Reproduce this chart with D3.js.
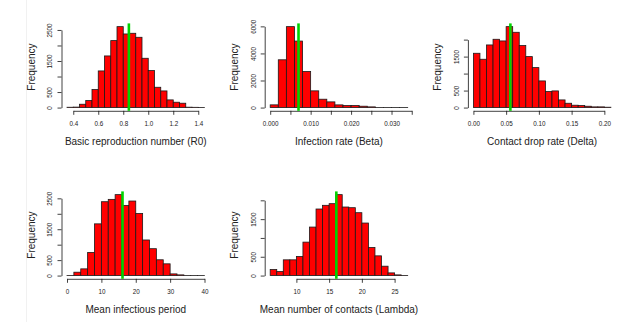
<!DOCTYPE html>
<html>
<head>
<meta charset="utf-8">
<script src="https://cdn.jsdelivr.net/npm/d3@7"></script>
<style>
  body { margin: 0; background: #fff; }
  svg { display: block; font-family: "Liberation Sans", Arial, sans-serif; }
  .axis path, .axis line { stroke: #111; stroke-width: 0.8; }
  .axis text { fill: #222; font-size: 6.3px; }
  .title { fill: #222; font-size: 10px; }
</style>
</head>
<body>
<svg></svg>
<script>
// histogram counts, one bin per entry
var r0Start = 0.35, r0Bin = 0.05;
var r0Counts = [10, 15, 107, 225, 580, 1180, 1663, 2157, 2607, 2371, 2393, 2264, 1588, 1191, 654, 536, 247, 172, 140, 12, 8, 2];
var r0Mark = 0.845;
var r0XTicks = [0.4, 0.6, 0.8, 1.0, 1.2, 1.4];
var r0XLabels = ["0.4", "0.6", "0.8", "1.0", "1.2", "1.4"];
var r0YTicks = [0, 500, 1000, 1500, 2000, 2500];
var r0YLabels = ["0", "500", "", "1500", "", "2500"];

var betaStart = 0, betaBin = 0.002;
var betaCounts = [200, 3530, 5980, 4914, 2667, 1235, 617, 420, 198, 150, 150, 100, 50, 5, 3, 2, 1];
var betaMark = 0.0070;
var betaXTicks = [0, 0.005, 0.01, 0.015, 0.02, 0.025, 0.03, 0.035];
var betaXLabels = ["0.000", "", "0.010", "", "0.020", "", "0.030", ""];
var betaYTicks = [0, 2000, 4000, 6000];
var betaYLabels = ["0", "2000", "4000", "6000"];

var deltaStart = 0, deltaBin = 0.01;
var deltaCounts = [1598, 1422, 1843, 2010, 1961, 2382, 2216, 1824, 1500, 1176, 784, 471, 490, 225, 127, 69, 59, 39, 20, 20, 10];
var deltaMark = 0.0565;
var deltaXTicks = [0, 0.05, 0.1, 0.15, 0.2];
var deltaXLabels = ["0.00", "0.05", "0.10", "0.15", "0.20"];
var deltaYTicks = [0, 500, 1000, 1500, 2000];
var deltaYLabels = ["0", "500", "", "1500", ""];

var periodStart = 0, periodBin = 2;
var periodCounts = [5, 109, 217, 750, 1674, 2391, 2467, 2620, 2272, 2413, 2011, 1152, 870, 511, 380, 54, 22, 3, 1, 1];
var periodMark = 16.15;
var periodXTicks = [0, 10, 20, 30, 40];
var periodXLabels = ["0", "10", "20", "30", "40"];
var periodYTicks = [0, 500, 1000, 1500, 2000, 2500];
var periodYLabels = ["0", "500", "", "1500", "", "2500"];

var lambdaStart = 6, lambdaBin = 1;
var lambdaCounts = [160, 107, 418, 418, 507, 889, 1289, 1769, 1867, 1911, 2151, 1822, 1804, 1671, 1396, 747, 524, 249, 71, 18, 3];
var lambdaMark = 16.1;
var lambdaXTicks = [10, 15, 20, 25];
var lambdaXLabels = ["10", "15", "20", "25"];
var lambdaYTicks = [0, 500, 1000, 1500, 2000];
var lambdaYLabels = ["0", "500", "", "1500", ""];

var titles = ["Basic reproduction number (R0)", "Infection rate (Beta)", "Contact drop rate (Delta)",
              "Mean infectious period", "Mean number of contacts (Lambda)"];

var svgWidth = 639, svgHeight = 327;
var colLeft = [61.5, 264.7, 467.9],
    rowTop = [23.4, 191.4],
    plotW = 148.5,
    plotH = 87.4;

var panels = [
  {start: r0Start, bin: r0Bin, counts: r0Counts, mark: r0Mark, xt: r0XTicks, xl: r0XLabels, yt: r0YTicks, yl: r0YLabels, col: 0, row: 0},
  {start: betaStart, bin: betaBin, counts: betaCounts, mark: betaMark, xt: betaXTicks, xl: betaXLabels, yt: betaYTicks, yl: betaYLabels, col: 1, row: 0},
  {start: deltaStart, bin: deltaBin, counts: deltaCounts, mark: deltaMark, xt: deltaXTicks, xl: deltaXLabels, yt: deltaYTicks, yl: deltaYLabels, col: 2, row: 0},
  {start: periodStart, bin: periodBin, counts: periodCounts, mark: periodMark, xt: periodXTicks, xl: periodXLabels, yt: periodYTicks, yl: periodYLabels, col: 0, row: 1},
  {start: lambdaStart, bin: lambdaBin, counts: lambdaCounts, mark: lambdaMark, xt: lambdaXTicks, xl: lambdaXLabels, yt: lambdaYTicks, yl: lambdaYLabels, col: 1, row: 1}
];

var svg = d3.select("svg").attr("width", svgWidth).attr("height", svgHeight);

// faint seam on the left of the original image
svg.append("line")
  .attr("x1", 26.5).attr("x2", 26.5).attr("y1", 0).attr("y2", 322)
  .attr("stroke", "#f1f1f1");

panels.forEach(function(p, k) {
  var left = colLeft[p.col], top = rowTop[p.row];
  var lo = p.start, hi = p.start + p.counts.length * p.bin;
  var maxC = d3.max(p.counts);

  // R style 4% padding on both axes
  var x = d3.scaleLinear()
    .domain([lo - 0.04 * (hi - lo), hi + 0.04 * (hi - lo)])
    .range([left, left + plotW]);
  var y = d3.scaleLinear()
    .domain([-0.04 * maxC, 1.04 * maxC])
    .range([top + plotH, top]);

  var g = svg.append("g");

  g.selectAll("rect")
    .data(p.counts)
    .enter()
    .append("rect")
    .attr("x", function(d, i) { return x(p.start + i * p.bin); })
    .attr("width", function(d, i) { return x(p.start + (i + 1) * p.bin) - x(p.start + i * p.bin); })
    .attr("y", function(d) { return y(d); })
    .attr("height", function(d) { return y(0) - y(d); })
    .attr("fill", "#ff0000")
    .attr("stroke", "#1a1a1a")
    .attr("stroke-width", 0.8);

  // x axis runs from first to last tick
  var xt = p.xt;
  var xa = x.copy().domain([xt[0], xt[xt.length - 1]]).range([x(xt[0]), x(xt[xt.length - 1])]);
  g.append("g")
    .attr("class", "axis")
    .attr("transform", "translate(0," + (top + plotH) + ")")
    .call(d3.axisBottom(xa)
      .tickValues(xt)
      .tickSize(4)
      .tickSizeOuter(0)
      .tickPadding(6.5)
      .tickFormat(function(d, i) { return p.xl[i]; }));

  var yt = p.yt;
  var ya = y.copy().domain([yt[0], yt[yt.length - 1]]).range([y(yt[0]), y(yt[yt.length - 1])]);
  var yAxis = g.append("g")
    .attr("class", "axis")
    .attr("transform", "translate(" + left + ",0)")
    .call(d3.axisLeft(ya)
      .tickValues(yt)
      .tickSize(4)
      .tickSizeOuter(0)
      .tickFormat(function(d, i) { return p.yl[i]; }));
  yAxis.selectAll("text")
    .attr("x", 0)
    .attr("y", 0)
    .attr("dy", 0)
    .attr("text-anchor", "middle")
    .attr("transform", "translate(-9.2,0) rotate(-90)");

  // marker line across the whole plot region
  g.append("line")
    .attr("x1", x(p.mark)).attr("x2", x(p.mark))
    .attr("y1", top).attr("y2", top + plotH)
    .attr("stroke", "#00d400")
    .attr("stroke-width", 2.6);

  g.append("text")
    .attr("class", "title")
    .attr("x", left + plotW / 2)
    .attr("y", top + plotH + 34.5)
    .attr("text-anchor", "middle")
    .text(titles[k]);

  g.append("text")
    .attr("class", "title")
    .attr("text-anchor", "middle")
    .attr("transform", "translate(" + (left - 26.5) + "," + (top + plotH / 2) + ") rotate(-90)")
    .text("Frequency");
});
</script>
</body>
</html>
